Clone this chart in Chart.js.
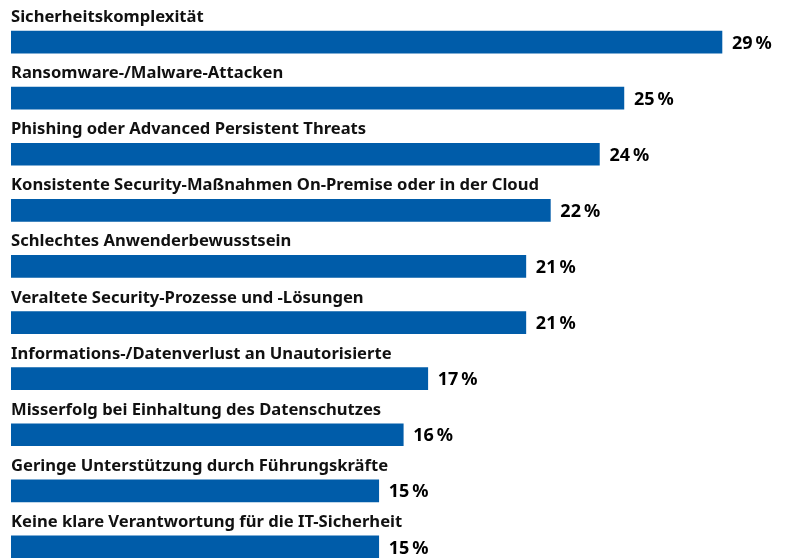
<!DOCTYPE html>
<html><head><meta charset="utf-8">
<script src="https://cdn.jsdelivr.net/npm/chart.js@4"></script>
<style>
html,body{margin:0;padding:0;background:#fff;width:790px;height:558px;overflow:hidden}
#wrap{width:790px;height:558px;overflow:hidden;position:relative}
canvas{display:block}
</style></head>
<body><div id="wrap"><canvas id="c" width="790" height="575"></canvas></div>
<script>
const categories = [
  "Sicherheitskomplexität",
  "Ransomware-/Malware-Attacken",
  "Phishing oder Advanced Persistent Threats",
  "Konsistente Security-Maßnahmen On-Premise oder in der Cloud",
  "Schlechtes Anwenderbewusstsein",
  "Veraltete Security-Prozesse und -Lösungen",
  "Informations-/Datenverlust an Unautorisierte",
  "Misserfolg bei Einhaltung des Datenschutzes",
  "Geringe Unterstützung durch Führungskräfte",
  "Keine klare Verantwortung für die IT-Sicherheit"
];
const values = [29, 25, 24, 22, 21, 21, 17, 16, 15, 15];
const valueSuffix = "\u2009%";

const FONT = '"Noto Sans", sans-serif';

const labelPlugin = {
  id: 'labels',
  afterDatasetsDraw(chart) {
    const ctx = chart.ctx;
    const meta = chart.getDatasetMeta(0);
    ctx.save();
    meta.data.forEach((bar, i) => {
      const top = bar.y - bar.height / 2;
      ctx.fillStyle = '#111';
      ctx.font = 'bold 16.6px ' + FONT;
      ctx.textAlign = 'left';
      ctx.textBaseline = 'alphabetic';
      ctx.fillText(categories[i], chart.chartArea.left, top - 9);
      ctx.font = 'bold 18px ' + FONT;
      ctx.textBaseline = 'middle';
      ctx.fillStyle = '#000';
      ctx.fillText(values[i] + valueSuffix, bar.x + 10, bar.y + 1.5);
    });
    ctx.restore();
  }
};

new Chart(document.getElementById('c'), {
  type: 'bar',
  data: {
    labels: categories,
    datasets: [{
      data: values,
      backgroundColor: '#005CA9',
      borderWidth: 0,
      barThickness: 22
    }]
  },
  options: {
    indexAxis: 'y',
    responsive: false,
    animation: false,
    layout: { padding: { left: 11, right: 19, top: 14, bottom: 0 } },
    plugins: { legend: { display: false }, tooltip: { enabled: false } },
    scales: {
      x: { min: 0, max: 31, display: false },
      y: { display: false }
    }
  },
  plugins: [labelPlugin]
});
</script></body></html>
